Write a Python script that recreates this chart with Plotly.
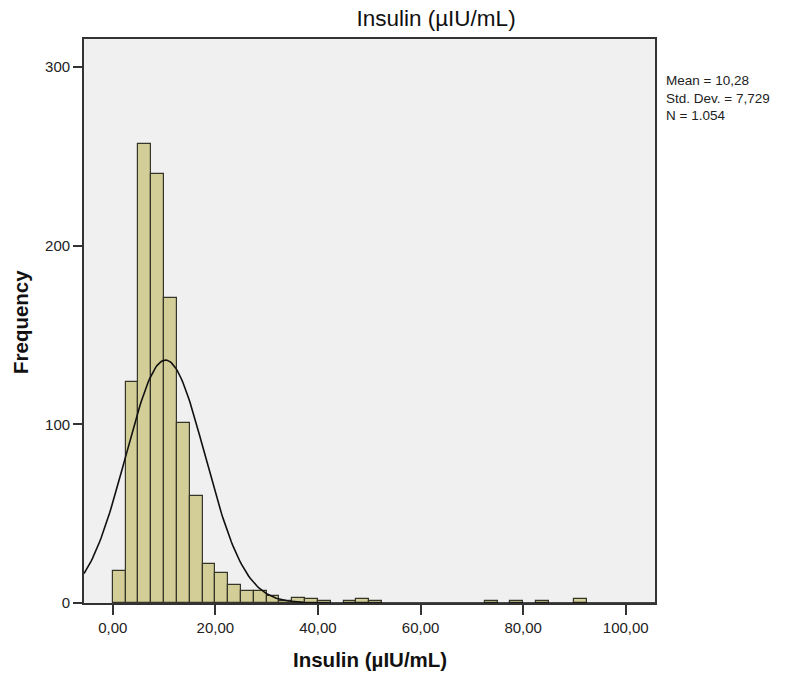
import numpy as np
import plotly.graph_objects as go

# ---- data ----
bin_lower = [0, 2.5, 5, 7.5, 10, 12.5, 15, 17.5, 20, 22.5, 25, 27.5, 30, 32.5,
             35, 37.5, 40, 45, 47.5, 50, 72.5, 77.5, 82.5, 90]
frequency = [18, 124, 257, 240, 171, 101, 60, 22, 17, 10, 7, 7, 4, 1,
             3, 2, 1, 1, 2, 1, 1, 1, 1, 2]
bin_width = 2.5
stat_mean = 10.28
stat_sd = 7.729
stat_n = 1054
x_tick_vals = [0, 20, 40, 60, 80, 100]
x_tick_text = ["0,00", "20,00", "40,00", "60,00", "80,00", "100,00"]
y_tick_vals = [0, 100, 200, 300]
stats_lines = ["Mean = 10,28", "Std. Dev. = 7,729", "N = 1.054"]
title_text = "Insulin (µIU/mL)"
x_title = "Insulin (µIU/mL)"
y_title = "Frequency"

x_range = [-5.6, 105.7]
y_range = [0, 315.8]

FONT = "Liberation Sans, Arial, sans-serif"
DARK = "#333333"

bin_centers = [b + bin_width / 2 for b in bin_lower]

fig = go.Figure()
fig.add_trace(go.Bar(
    x=bin_centers, y=frequency, width=bin_width,
    marker=dict(color="#D3CE97", line=dict(color="#35352a", width=1.2)),
    hoverinfo="x+y", showlegend=False,
))

# fitted normal curve from the reported statistics
cx = np.linspace(x_range[0], x_range[1], 400)
cy = stat_n * bin_width / (stat_sd * np.sqrt(2 * np.pi)) * np.exp(-0.5 * ((cx - stat_mean) / stat_sd) ** 2)
fig.add_trace(go.Scatter(x=cx, y=cy, mode="lines",
                         line=dict(color="#111111", width=1.6),
                         showlegend=False, hoverinfo="skip"))

W, H = 787, 679
L, R, T, B = 84, 132, 39, 76
plot_h = H - T - B

def py(pix):
    return (H - B - pix) / plot_h

fig.update_layout(
    width=W, height=H,
    margin=dict(l=L, r=R, t=T, b=B, pad=0),
    paper_bgcolor="white", plot_bgcolor="#F0F0F0",
    font=dict(family=FONT, size=14, color="#222222"),
    bargap=0,
    title=dict(text=title_text, x=436 / W, xref="container", xanchor="center",
               y=1 - 18 / H, yref="container", yanchor="middle",
               font=dict(family=FONT, size=22.5, color="#111111")),
)

fig.update_xaxes(
    range=x_range, tickvals=x_tick_vals, ticktext=x_tick_text,
    ticks="outside", ticklen=10, tickwidth=1.5, tickcolor=DARK,
    showline=True, linecolor=DARK, linewidth=1.8, mirror=True,
    showgrid=False, zeroline=False,
    tickfont=dict(family=FONT, size=15, color="#222222"),
)
fig.update_yaxes(
    range=y_range, tickvals=y_tick_vals,
    ticks="outside", ticklen=9, tickwidth=1.5, tickcolor=DARK,
    showline=True, linecolor=DARK, linewidth=1.8, mirror=True,
    showgrid=False, zeroline=False,
    tickfont=dict(family=FONT, size=15, color="#222222"),
)

annotations = [
    dict(text="<b>" + x_title + "</b>", xref="paper", yref="paper",
         x=0.5, y=py(660), xanchor="center", yanchor="middle",
         showarrow=False, font=dict(family=FONT, size=20.5, color="#111111")),
    dict(text="<b>" + y_title + "</b>", xref="paper", yref="paper",
         x=(20 - L) / (W - L - R), y=py(322), xanchor="center", yanchor="middle",
         textangle=-90, showarrow=False,
         font=dict(family=FONT, size=20.5, color="#111111")),
    dict(text="<br>".join(stats_lines), xref="paper", yref="paper",
         x=(664 - L) / (W - L - R), y=py(71), align="left",
         xanchor="left", yanchor="top", showarrow=False,
         font=dict(family=FONT, size=13.5, color="#222222")),
]
fig.update_layout(annotations=annotations)

fig.write_html("out.html")
